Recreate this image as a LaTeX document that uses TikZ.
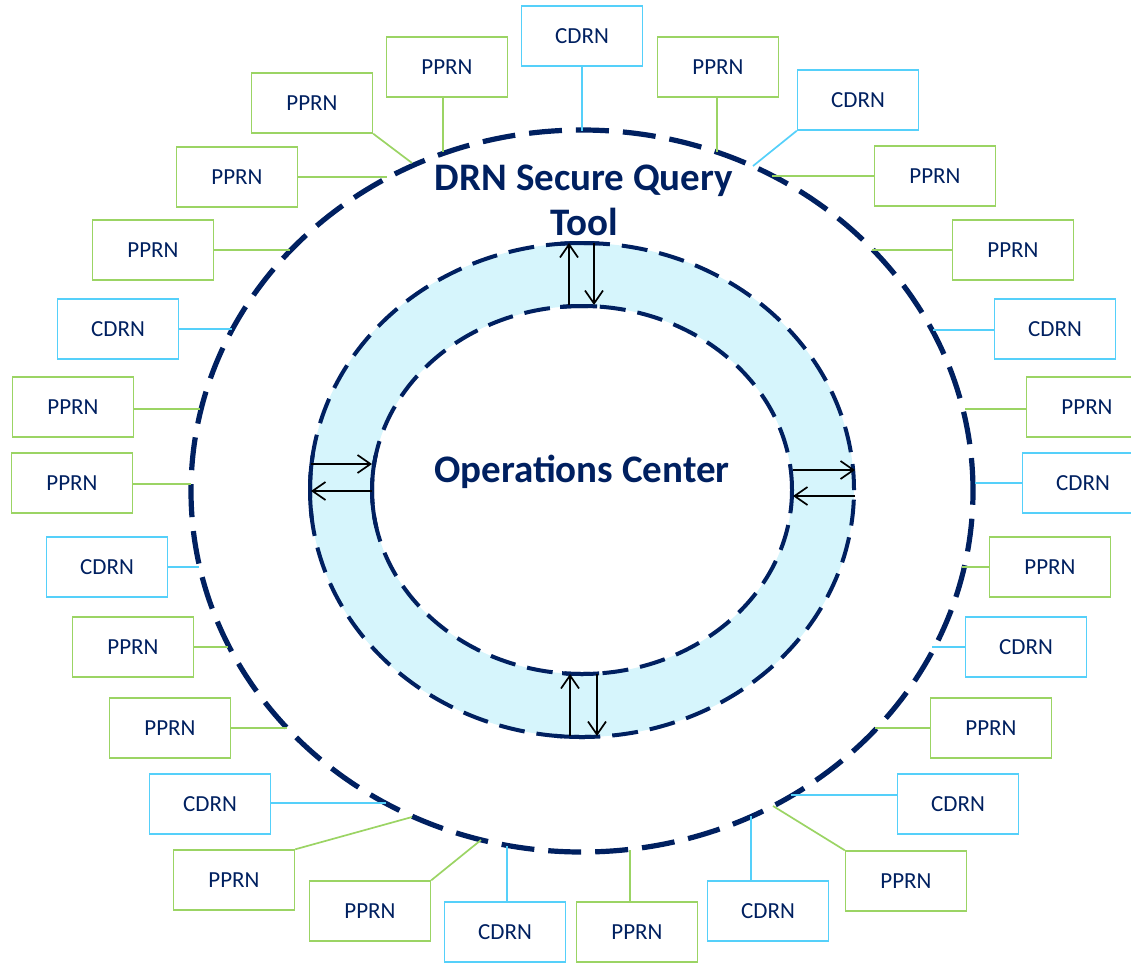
\documentclass[tikz,border=0pt]{standalone}
\usepackage{fontspec}
\setmainfont{Carlito}
\usetikzlibrary{arrows.meta}
\definecolor{navy}{RGB}{0,32,96}
\definecolor{pgreen}{RGB}{155,212,100}
\definecolor{cblue}{RGB}{85,208,250}
\definecolor{bandfill}{RGB}{214,245,252}
\begin{document}
\begin{tikzpicture}[x=1pt,y=-1pt,
  netbox/.style={draw, line width=1.4pt, minimum width=121pt, minimum height=60pt, inner sep=0pt, text=navy, font=\fontsize{23}{27}\selectfont},
  pprn/.style={netbox, draw=pgreen},
  cdrn/.style={netbox, draw=cblue},
  plink/.style={draw=pgreen, line width=1.7pt},
  clink/.style={draw=cblue, line width=1.7pt},
  ring/.style={draw=navy, line width=5.2pt, dash pattern=on 33pt off 14pt},
  bandline/.style={draw=navy, line width=4pt, dash pattern=on 26pt off 12pt},
  bandsolid/.style={draw=navy, line width=4pt},
  flow/.style={draw=black, line width=1.7pt, -{Straight Barb[length=13pt,width=18pt]}},
  title/.style={text=navy, font=\bfseries\fontsize{39}{45}\selectfont, align=center}]

\useasboundingbox (0,0) rectangle (1131,962);

% band between the two rings
\fill[bandfill, even odd rule] (582,490) ellipse [x radius=272pt, y radius=247pt]
  (582,490) ellipse [x radius=210pt, y radius=184pt];
\draw[bandline] (582,490) ellipse [x radius=272pt, y radius=247pt];
\draw[bandline] (582,490) ellipse [x radius=210pt, y radius=184pt];
\begin{scope}\clip (560,228) rectangle (599,258);
  \draw[bandsolid] (582,490) ellipse [x radius=272pt, y radius=247pt];\end{scope}
\begin{scope}\clip (560,292) rectangle (597,320);
  \draw[bandsolid] (582,490) ellipse [x radius=210pt, y radius=184pt];\end{scope}
\begin{scope}\clip (562,660) rectangle (599,690);
  \draw[bandsolid] (582,490) ellipse [x radius=210pt, y radius=184pt];\end{scope}
\begin{scope}\clip (555,722) rectangle (591,752);
  \draw[bandsolid] (582,490) ellipse [x radius=272pt, y radius=247pt];\end{scope}
\begin{scope}\clip (298,455) rectangle (326,517);
  \draw[bandsolid] (582,490) ellipse [x radius=272pt, y radius=247pt];\end{scope}
\begin{scope}\clip (358,455) rectangle (388,527);
  \draw[bandsolid] (582,490) ellipse [x radius=210pt, y radius=184pt];\end{scope}

% outer ring
\draw[ring] (582,491) ellipse [x radius=391pt, y radius=361pt];

% titles
\node[title] (sqt) at (584,200) {DRN Secure Query\\Tool};
\node[title] (ops) at (582,472) {Operations Center};

% flow arrows across the band
\coordinate (tu1) at (569,305); \coordinate (tu2) at (569,243);
\coordinate (td1) at (594,243); \coordinate (td2) at (594,305);
\coordinate (bu1) at (570,736); \coordinate (bu2) at (570,674);
\coordinate (bd1) at (597,674); \coordinate (bd2) at (597,736);
\coordinate (lr1) at (311,464); \coordinate (lr2) at (372,464);
\coordinate (ll1) at (372,491); \coordinate (ll2) at (311,491);
\coordinate (rr1) at (793,470); \coordinate (rr2) at (855,470);
\coordinate (rl1) at (855,496); \coordinate (rl2) at (793,496);
\draw[flow] (tu1) -- (tu2);
\draw[flow] (td1) -- (td2);
\draw[flow] (bu1) -- (bu2);
\draw[flow] (bd1) -- (bd2);
\draw[flow] (lr1) -- (lr2);
\draw[flow] (ll1) -- (ll2);
\draw[flow] (rr1) -- (rr2);
\draw[flow] (rl1) -- (rl2);

% network boxes
\node[cdrn] (b1) at (582,36) {CDRN};
\node[pprn] (b2) at (447,67) {PPRN};
\node[pprn] (b3) at (718,67) {PPRN};
\node[pprn] (b4) at (312,103) {PPRN};
\node[pprn] (b5) at (237,177) {PPRN};
\node[cdrn] (b6) at (858,100) {CDRN};
\node[pprn] (b7) at (935,176) {PPRN};
\node[pprn] (b8) at (153,250) {PPRN};
\node[cdrn] (b9) at (118,329) {CDRN};
\node[pprn] (b10) at (73,407) {PPRN};
\node[pprn] (b11) at (72,483) {PPRN};
\node[cdrn] (b12) at (107,567) {CDRN};
\node[pprn] (b13) at (133,647) {PPRN};
\node[pprn] (b14) at (170,728) {PPRN};
\node[cdrn] (b15) at (210,804) {CDRN};
\node[pprn] (b16) at (234,880) {PPRN};
\node[pprn] (b17) at (370,911) {PPRN};
\node[cdrn] (b18) at (505,932) {CDRN};
\node[pprn] (b19) at (637,932) {PPRN};
\node[cdrn] (b20) at (768,911) {CDRN};
\node[pprn] (b21) at (906,881) {PPRN};
\node[cdrn] (b22) at (958,804) {CDRN};
\node[pprn] (b23) at (991,728) {PPRN};
\node[cdrn] (b24) at (1026,647) {CDRN};
\node[pprn] (b25) at (1050,567) {PPRN};
\node[cdrn] (b26) at (1083,483) {CDRN};
\node[pprn] (b27) at (1087,407) {PPRN};
\node[cdrn] (b28) at (1055,329) {CDRN};
\node[pprn] (b29) at (1013,250) {PPRN};

% connector ends on the outer ring
\coordinate (e1) at (582,131);
\coordinate (e2) at (443,152);
\coordinate (e3) at (717,152);
\coordinate (e4) at (412,163);
\coordinate (e5) at (387,177);
\coordinate (e6) at (753,166);
\coordinate (e7) at (772,176);
\coordinate (e8) at (290,250);
\coordinate (e9) at (232,329);
\coordinate (e10) at (200,409);
\coordinate (e11) at (191,484);
\coordinate (e12) at (199,567);
\coordinate (e13) at (228,647);
\coordinate (e14) at (287,728);
\coordinate (e15) at (386,803);
\coordinate (e16) at (412,817);
\coordinate (e17) at (481,840);
\coordinate (e18) at (507,846);
\coordinate (e19) at (630,850);
\coordinate (e20) at (751,816);
\coordinate (e21) at (773,806);
\coordinate (e22) at (791,795);
\coordinate (e23) at (875,728);
\coordinate (e24) at (932,647);
\coordinate (e25) at (962,567);
\coordinate (e26) at (975,483);
\coordinate (e27) at (965,409);
\coordinate (e28) at (933,330);
\coordinate (e29) at (872,250);

% connectors
\draw[clink] (b1) -- (e1);
\draw[plink] (b2.south -| e2) -- (e2);
\draw[plink] (b3.south -| e3) -- (e3);
\draw[plink] (b4.south east) -- (e4);
\draw[plink] (b5) -- (e5);
\draw[clink] (b6.south west) -- (e6);
\draw[plink] (b7) -- (e7);
\draw[plink] (b8) -- (e8);
\draw[clink] (b9) -- (e9);
\draw[plink] (b10.east |- e10) -- (e10);
\draw[plink] (b11.east |- e11) -- (e11);
\draw[clink] (b12) -- (e12);
\draw[plink] (b13) -- (e13);
\draw[plink] (b14) -- (e14);
\draw[clink] (b15.east |- e15) -- (e15);
\draw[plink] (b16.north east) -- (e16);
\draw[plink] (b17.north east) -- (e17);
\draw[clink] (b18.north -| e18) -- (e18);
\draw[plink] (b19.north -| e19) -- (e19);
\draw[clink] (b20.north -| e20) -- (e20);
\draw[plink] (b21.north west) -- (e21);
\draw[clink] (b22.west |- e22) -- (e22);
\draw[plink] (b23) -- (e23);
\draw[clink] (b24) -- (e24);
\draw[plink] (b25) -- (e25);
\draw[clink] (b26) -- (e26);
\draw[plink] (b27.west |- e27) -- (e27);
\draw[clink] (b28.west |- e28) -- (e28);
\draw[plink] (b29) -- (e29);
\end{tikzpicture}
\end{document}
